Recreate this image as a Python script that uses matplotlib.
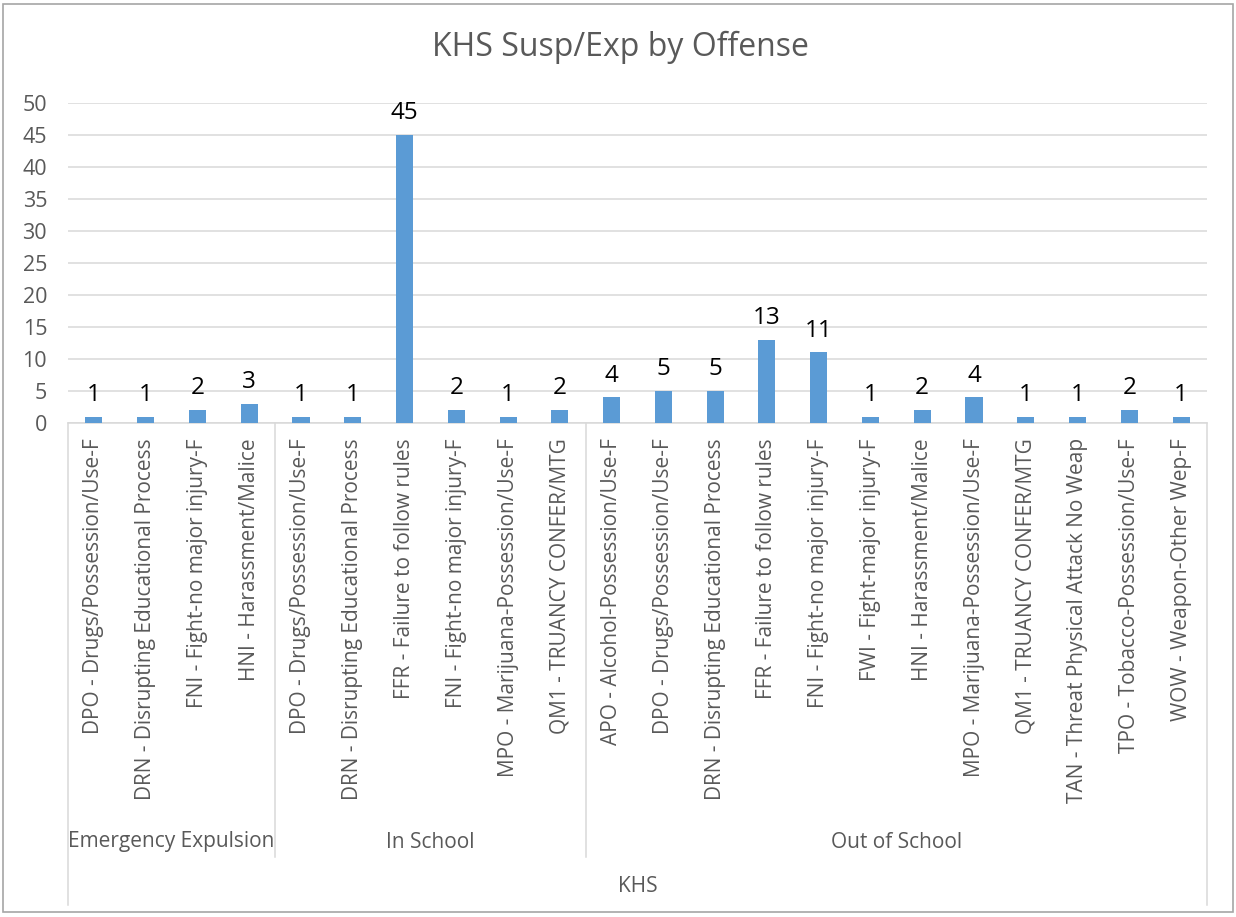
import matplotlib.pyplot as plt
import matplotlib.transforms as mtransforms
from matplotlib.patches import Rectangle

plt.rcParams['font.family'] = ['Open Sans', 'DejaVu Sans']

# categories (offense) grouped by action, all under KHS
groups = ["Emergency Expulsion", "In School", "Out of School"]
group_sizes = [4, 6, 12]
offenses = [
    "DPO - Drugs/Possession/Use-F",
    "DRN - Disrupting Educational Process",
    "FNI - Fight-no major injury-F",
    "HNI - Harassment/Malice",
    "DPO - Drugs/Possession/Use-F",
    "DRN - Disrupting Educational Process",
    "FFR - Failure to follow rules",
    "FNI - Fight-no major injury-F",
    "MPO - Marijuana-Possession/Use-F",
    "QM1 - TRUANCY CONFER/MTG",
    "APO - Alcohol-Possession/Use-F",
    "DPO - Drugs/Possession/Use-F",
    "DRN - Disrupting Educational Process",
    "FFR - Failure to follow rules",
    "FNI - Fight-no major injury-F",
    "FWI - Fight-major injury-F",
    "HNI - Harassment/Malice",
    "MPO - Marijuana-Possession/Use-F",
    "QM1 - TRUANCY CONFER/MTG",
    "TAN - Threat Physical Attack No Weap",
    "TPO - Tobacco-Possession/Use-F",
    "WOW - Weapon-Other Wep-F",
]
counts = [1, 1, 2, 3, 1, 1, 45, 2, 1, 2, 4, 5, 5, 13, 11, 1, 2, 4, 1, 1, 2, 1]
school = "KHS"

W, H = 1236, 917
fig = plt.figure(figsize=(W / 100, H / 100), dpi=100)
ax = fig.add_axes([68 / W, 1 - 423 / H, (1207 - 68) / W, (423 - 102.5) / H])

x = list(range(len(counts)))
bars = ax.bar(x, counts, width=0.33, color="#5b9bd5", zorder=3)
for xi, v in zip(x, counts):
    ax.annotate(str(v), (xi, v), xytext=(0, 7), textcoords="offset points",
                ha="center", va="bottom", fontsize=17.5, color="black")

ax.set_xlim(-0.5, len(counts) - 0.5)
ax.set_ylim(0, 50)
ax.set_yticks(range(0, 51, 5))
ax.grid(axis="y", color="#d9d9d9", linewidth=1.1, zorder=0)
ax.set_axisbelow(True)
for s in ["top", "right", "left"]:
    ax.spines[s].set_visible(False)
ax.spines["bottom"].set_color("#d9d9d9")
ax.spines["bottom"].set_linewidth(1.1)
ax.tick_params(axis="y", length=0, pad=15, labelsize=15.5, labelcolor="#595959")
ax.set_xticks(x)
ax.set_xticklabels(offenses, rotation=90, va="top", ha="center",
                   fontsize=15, color="#595959")
ax.tick_params(axis="x", length=0, pad=11)

fig.text(620 / W, 1 - 47 / H, "KHS Susp/Exp by Offense", fontsize=23,
         color="#595959", ha="center", va="center")

# multi-level category axis
trans = mtransforms.blended_transform_factory(ax.transData, fig.transFigure)
y_axis = 1 - 423 / H
y_grp = 1 - 857 / H
y_all = 1 - 905 / H
sep_kw = dict(color="#d9d9d9", linewidth=1.1, transform=trans, clip_on=False)
ax.plot([-0.5, -0.5], [y_axis, y_all], **sep_kw)
ax.plot([len(counts) - 0.5] * 2, [y_axis, y_all], **sep_kw)
start = 0
for name, n in zip(groups, group_sizes):
    end = start + n
    if end < len(counts):
        ax.plot([end - 0.5] * 2, [y_axis, y_grp], **sep_kw)
    ax.text((start + end - 1) / 2, 1 - 842 / H, name, transform=trans,
            ha="center", va="center", fontsize=15, color="#595959")
    start = end
ax.text((len(counts) - 1) / 2, 1 - 887 / H, school, transform=trans,
        ha="center", va="center", fontsize=15, color="#595959")

fig.patches.append(Rectangle((3 / W, 5 / H), (1233 - 3) / W, (913 - 5) / H,
                             transform=fig.transFigure, fill=False,
                             edgecolor="#a6a6a6", linewidth=1.2))

fig.savefig("out.png", dpi=100)
